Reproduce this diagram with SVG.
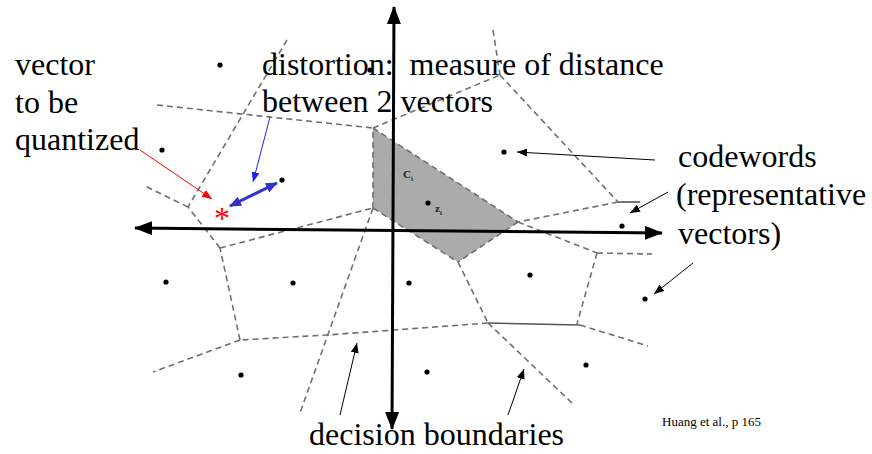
<svg xmlns="http://www.w3.org/2000/svg" width="872" height="454" viewBox="0 0 872 454">
<style>
.lbl{font-family:"Liberation Serif","Times New Roman",serif;font-size:32px;fill:#000}
.small{font-family:"Liberation Serif","Times New Roman",serif;font-size:13px;fill:#000}
.tiny{font-family:"Liberation Serif","Times New Roman",serif;font-size:11px;fill:#222;font-weight:bold}
.bd{fill:none;stroke:#707070;stroke-width:1.6;stroke-dasharray:6 4}
.bds{fill:none;stroke:#555;stroke-width:1.6}
.axis{fill:none;stroke:#000;stroke-width:3}
.cw{fill:#000}
.blk{fill:none;stroke:#000;stroke-width:1}
</style>
<defs>
<marker id="axhead" viewBox="0 0 18 14" refX="17" refY="7" markerWidth="18" markerHeight="14" markerUnits="userSpaceOnUse" orient="auto-start-reverse">
<path d="M0,0 L18,7 L0,14 z" fill="#000"/>
</marker>
<marker id="ah" viewBox="0 0 10 8" refX="10" refY="4" markerWidth="10" markerHeight="8" markerUnits="userSpaceOnUse" orient="auto">
<path d="M0,0 L10,4 L0,8 z" fill="#000"/>
</marker>
<marker id="ahr" viewBox="0 0 10 8" refX="10" refY="4" markerWidth="10" markerHeight="8" markerUnits="userSpaceOnUse" orient="auto">
<path d="M0,0 L10,4 L0,8 z" fill="#ff0000"/>
</marker>
<marker id="ahb" viewBox="0 0 10 8" refX="10" refY="4" markerWidth="10" markerHeight="8" markerUnits="userSpaceOnUse" orient="auto">
<path d="M0,0 L10,4 L0,8 z" fill="#2020ee"/>
</marker>
<marker id="ahbb" viewBox="0 0 12 10" refX="11" refY="5" markerWidth="12" markerHeight="10" markerUnits="userSpaceOnUse" orient="auto-start-reverse">
<path d="M0,0 L12,5 L0,10 z" fill="#3333cc"/>
</marker>
</defs>
<rect width="872" height="454" fill="#fff"/>

<g id="cell-ci">
<polygon points="373,128 518,222 458,262 373,208" fill="#ababab" stroke="none"/>
</g>

<g id="boundaries">
<path class="bd" d="M287,40 L188,207"/>
<path class="bd" d="M157,105 L373,128"/>
<path class="bd" d="M373,128 L500,75"/>
<path class="bd" d="M493,30 L500,75"/>
<path class="bd" d="M500,75 L618,202"/>
<path class="bds" d="M618,202 L640,202"/>
<path class="bd" d="M618,202 L518,222"/>
<path class="bd" d="M373,128 L518,222"/>
<path class="bd" d="M518,222 L597,253"/>
<path class="bd" d="M597,253 L652,254"/>
<path class="bd" d="M597,253 L577,324"/>
<path class="bds" d="M488,323 L580,325"/>
<path class="bd" d="M580,325 L648,346"/>
<path class="bd" d="M518,222 L458,262"/>
<path class="bd" d="M458,262 L488,323"/>
<path class="bd" d="M488,323 L573,404"/>
<path class="bd" d="M488,323 L327,335 L240,340"/>
<path class="bd" d="M240,340 L153,372"/>
<path class="bd" d="M240,340 L220,248"/>
<path class="bd" d="M220,248 L188,207"/>
<path class="bd" d="M188,207 L145,186"/>
<path class="bd" d="M220,248 L373,208"/>
<path class="bd" d="M373,208 L373,128"/>
<path class="bd" d="M373,208 L458,262"/>
<path class="bd" d="M373,208 L300,413"/>
</g>

<g id="axes">
<line class="axis" x1="135" y1="228" x2="662" y2="233" marker-start="url(#axhead)" marker-end="url(#axhead)"/>
<line class="axis" x1="394" y1="7" x2="392" y2="429" marker-start="url(#axhead)" marker-end="url(#axhead)"/>
</g>

<g id="codewords">
<circle class="cw" cx="220" cy="65" r="2.6"/>
<circle class="cw" cx="162" cy="150" r="2.6"/>
<circle class="cw" cx="282" cy="180" r="2.6"/>
<circle class="cw" cx="370" cy="70" r="2.6"/>
<circle class="cw" cx="428" cy="203" r="2.6"/>
<circle class="cw" cx="504" cy="152" r="2.6"/>
<circle class="cw" cx="622" cy="226" r="2.6"/>
<circle class="cw" cx="530" cy="275" r="2.6"/>
<circle class="cw" cx="645" cy="299" r="2.6"/>
<circle class="cw" cx="586" cy="365" r="2.6"/>
<circle class="cw" cx="166" cy="282" r="2.6"/>
<circle class="cw" cx="293" cy="283" r="2.6"/>
<circle class="cw" cx="409" cy="283" r="2.6"/>
<circle class="cw" cx="241" cy="375" r="2.6"/>
<circle class="cw" cx="427" cy="372" r="2.6"/>
</g>

<g id="cell-labels">
<text class="tiny" x="403" y="178">C<tspan font-size="7" dy="3">i</tspan></text>
<text class="tiny" x="435" y="212">z<tspan font-size="7" dy="3">i</tspan></text>
</g>

<g id="input-vector">
<text x="222" y="229" text-anchor="middle" font-family="Liberation Serif, Times New Roman, serif" font-size="32" fill="#ff0000">*</text>
</g>

<g id="label-vector">
<text class="lbl" x="15" y="75">vector</text>
<text class="lbl" x="15" y="113">to be</text>
<text class="lbl" x="15" y="150">quantized</text>
</g>

<g id="label-distortion">
<text class="lbl" x="262" y="75" xml:space="preserve">distortion:  measure of distance</text>
<text class="lbl" x="262" y="112">between 2 vectors</text>
</g>

<g id="label-codewords">
<text class="lbl" x="678" y="167">codewords</text>
<text class="lbl" x="676" y="205">(representative</text>
<text class="lbl" x="678" y="244">vectors)</text>
</g>

<g id="label-boundaries">
<text class="lbl" x="309" y="445">decision boundaries</text>
</g>

<g id="citation">
<text class="small" x="662" y="426">Huang et al., p 165</text>
</g>

<g id="connectors">
<line x1="140" y1="150" x2="212" y2="199" stroke="#ff0000" stroke-width="1" marker-end="url(#ahr)"/>
<line x1="270" y1="117" x2="253" y2="182" stroke="#2020ee" stroke-width="1" marker-end="url(#ahb)"/>
<line x1="230" y1="206" x2="277" y2="183" stroke="#3333cc" stroke-width="3" marker-start="url(#ahbb)" marker-end="url(#ahbb)"/>
<line class="blk" x1="655" y1="160" x2="517" y2="152" marker-end="url(#ah)"/>
<line class="blk" x1="668" y1="192" x2="630" y2="213" marker-end="url(#ah)"/>
<line class="blk" x1="693" y1="263" x2="654" y2="294" marker-end="url(#ah)"/>
<line class="blk" x1="340" y1="415" x2="357" y2="343" marker-end="url(#ah)"/>
<line class="blk" x1="508" y1="415" x2="524" y2="369" marker-end="url(#ah)"/>
</g>
</svg>
